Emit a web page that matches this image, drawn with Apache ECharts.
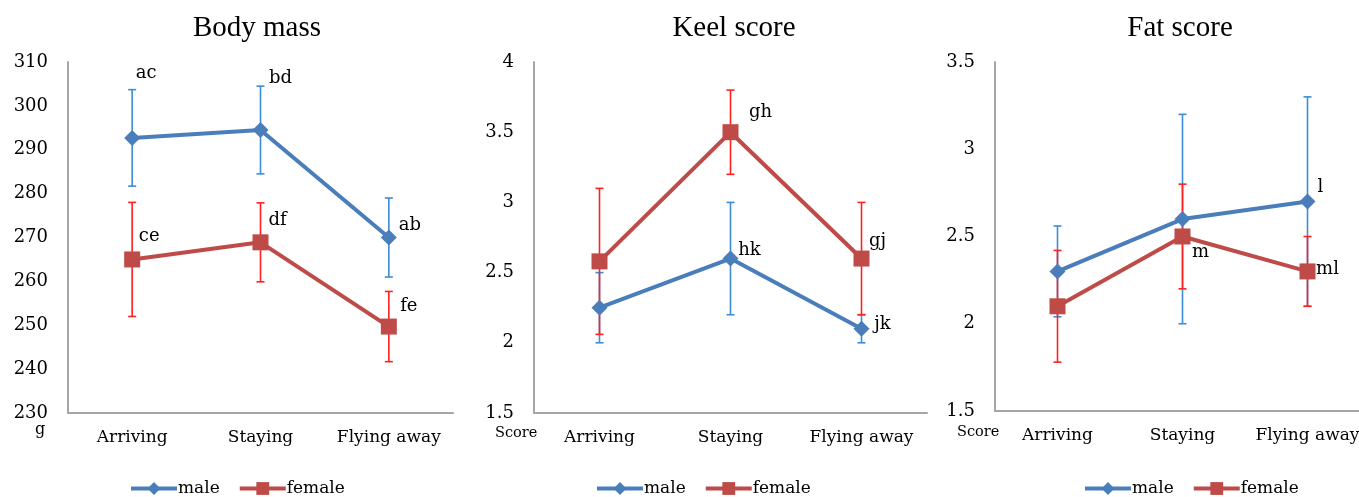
<!DOCTYPE html>
<html>
<head>
<meta charset="utf-8">
<script src="https://cdn.jsdelivr.net/npm/echarts@6/dist/echarts.min.js"></script>
<style>html,body{margin:0;padding:0;background:#fff;overflow:hidden;}#c{width:1380px;height:497px;}</style>
</head>
<body>
<div id="c"></div>
<script>
// ---- data ----
const categories = ['Arriving', 'Staying', 'Flying away'];
const titles = ['Body mass', 'Keel score', 'Fat score'];
const unitLabels = ['g', 'Score', 'Score'];
const seriesNames = ['male', 'female'];

const massMale = [292.7, 294.5, 270];
const massMaleErr = [11, 10, 9];
const massFemale = [265, 268.9, 249.7];
const massFemaleErr = [13, 9, 8];
const massMaleLetters = ['ac', 'bd', 'ab'];
const massFemaleLetters = ['ce', 'df', 'fe'];

const keelMale = [2.25, 2.6, 2.1];
const keelMaleErr = [0.25, 0.4, 0.1];
const keelFemale = [2.58, 3.5, 2.6];
const keelFemaleErr = [0.52, 0.3, 0.4];
const keelMaleLetters = ['', 'hk', 'jk'];
const keelFemaleLetters = ['', 'gh', 'gj'];

const fatMale = [2.3, 2.6, 2.7];
const fatMaleErr = [0.26, 0.6, 0.6];
const fatFemale = [2.1, 2.5, 2.3];
const fatFemaleErr = [0.32, 0.3, 0.2];
const fatMaleLetters = ['', '', 'l'];
const fatFemaleLetters = ['', 'm', 'ml'];

const yMins = [230, 1.5, 1.5];
const yMaxs = [310, 4, 3.5];
const yIntervals = [10, 0.5, 0.5];

// ---- layout / style ----
const TITLE_FONT = '"Liberation Serif", "Times New Roman", serif';
const FONT = '"DejaVu Serif", serif';
const grids = [
  {left: 68, top: 62, width: 385, height: 351},
  {left: 534, top: 62, width: 393, height: 351},
  {left: 995, top: 62, width: 375, height: 349}
];
const titleCenters = [252, 729, 1175];
const legendLefts = [129, 595, 1083];
const unitPos = [[40, 432], [516, 436], [978, 435]];
// label offsets (dx, dy from the marker centre)
const offsets = {
  massMale: [[14, -65], [20, -52], [21, -12]],
  massFemale: [[17, -23], [17, -22], [20, -20]],
  keelMale: [[0, 0], [19, -8], [21, -4]],
  keelFemale: [[0, 0], [30, -20], [16, -17]],
  fatMale: [[0, 0], [0, 0], [13, -14]],
  fatFemale: [[0, 0], [18, 16], [20, -2]]
};
const MALE = '#4a7ebb', FEMALE = '#be4b48';
const MALE_ERR = '#3d8cd6', FEMALE_ERR = '#ff2020';

const panels = [
  {male: massMale, maleErr: massMaleErr, female: massFemale, femaleErr: massFemaleErr,
   ml: massMaleLetters, fl: massFemaleLetters, mo: offsets.massMale, fo: offsets.massFemale},
  {male: keelMale, maleErr: keelMaleErr, female: keelFemale, femaleErr: keelFemaleErr,
   ml: keelMaleLetters, fl: keelFemaleLetters, mo: offsets.keelMale, fo: offsets.keelFemale},
  {male: fatMale, maleErr: fatMaleErr, female: fatFemale, femaleErr: fatFemaleErr,
   ml: fatMaleLetters, fl: fatFemaleLetters, mo: offsets.fatMale, fo: offsets.fatFemale}
];

function errRender(color) {
  return function (params, api) {
    const x = api.value(0);
    const lo = api.coord([x, api.value(1)]);
    const hi = api.coord([x, api.value(2)]);
    const hw = 4;
    const style = {stroke: color, lineWidth: 1.6};
    return {
      type: 'group',
      children: [
        {type: 'line', shape: {x1: lo[0], y1: lo[1], x2: hi[0], y2: hi[1]}, style: style},
        {type: 'line', shape: {x1: lo[0] - hw, y1: lo[1], x2: lo[0] + hw, y2: lo[1]}, style: style},
        {type: 'line', shape: {x1: hi[0] - hw, y1: hi[1], x2: hi[0] + hw, y2: hi[1]}, style: style}
      ]
    };
  };
}

function lineData(vals, letters, offs) {
  return vals.map((v, i) => ({
    value: v,
    label: {
      show: letters[i] !== '',
      formatter: letters[i],
      position: 'inside',
      offset: offs[i],
      align: 'center',
      verticalAlign: 'middle',
      color: '#000',
      fontFamily: FONT,
      fontSize: 18
    }
  }));
}

const option = {
  animation: false,
  backgroundColor: '#fff',
  title: titles.map((t, i) => ({
    text: t,
    left: titleCenters[i],
    textAlign: 'center',
    top: 9,
    textStyle: {fontFamily: TITLE_FONT, fontSize: 29, fontWeight: 'normal', color: '#000'}
  })),
  grid: grids,
  legend: legendLefts.map(l => ({
    data: seriesNames,
    left: l,
    top: 480,
    padding: 0,
    itemWidth: 46,
    itemHeight: 16,
    itemGap: 18,
    lineStyle: {width: 4},
    textStyle: {fontFamily: FONT, fontSize: 17, color: '#000', padding: [0, 0, 0, -4]}
  })),
  xAxis: grids.map((g, i) => ({
    type: 'category',
    gridIndex: i,
    data: categories,
    boundaryGap: true,
    axisLine: {lineStyle: {color: '#a6a6a6', width: 2}},
    axisTick: {show: false},
    axisLabel: {interval: 0, fontFamily: FONT, fontSize: 17, color: '#000', margin: 16}
  })),
  yAxis: grids.map((g, i) => ({
    type: 'value',
    gridIndex: i,
    min: yMins[i],
    max: yMaxs[i],
    interval: yIntervals[i],
    splitLine: {show: false},
    axisLine: {show: true, lineStyle: {color: '#a6a6a6', width: 2}},
    axisTick: {show: false},
    axisLabel: {fontFamily: FONT, fontSize: 18, color: '#000', margin: 20}
  })),
  graphic: unitLabels.map((u, i) => ({
    type: 'text',
    left: unitPos[i][0] - (u === 'g' ? 5 : 21),
    top: unitPos[i][1] - 10,
    style: {text: u, font: (u === 'g' ? '16px ' : '14.5px ') + FONT, fill: '#000'}
  })),
  series: []
};

panels.forEach((p, i) => {
  option.series.push({
    type: 'custom', xAxisIndex: i, yAxisIndex: i, z: 1, silent: true,
    renderItem: errRender(MALE_ERR),
    data: p.male.map((v, k) => [k, v - p.maleErr[k], v + p.maleErr[k]])
  });
  option.series.push({
    type: 'custom', xAxisIndex: i, yAxisIndex: i, z: 1, silent: true,
    renderItem: errRender(FEMALE_ERR),
    data: p.female.map((v, k) => [k, v - p.femaleErr[k], v + p.femaleErr[k]])
  });
  option.series.push({
    name: 'male', type: 'line', xAxisIndex: i, yAxisIndex: i, z: 3,
    symbol: 'diamond', symbolSize: 16,
    lineStyle: {color: MALE, width: 4},
    itemStyle: {color: MALE},
    data: lineData(p.male, p.ml, p.mo)
  });
  option.series.push({
    name: 'female', type: 'line', xAxisIndex: i, yAxisIndex: i, z: 2,
    symbol: 'rect', symbolSize: 16,
    lineStyle: {color: FEMALE, width: 4},
    itemStyle: {color: FEMALE},
    data: lineData(p.female, p.fl, p.fo)
  });
});

const chart = echarts.init(document.getElementById('c'), null, {renderer: 'canvas'});
chart.setOption(option);
</script>
</body>
</html>
